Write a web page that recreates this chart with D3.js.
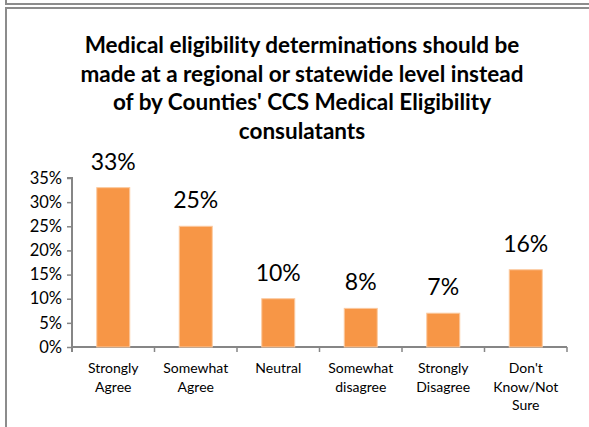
<!DOCTYPE html>
<html>
<head>
<meta charset="utf-8">
<script src="https://cdn.jsdelivr.net/npm/d3@7"></script>
<style>
  body { margin: 0; background: #fff; }
  text { font-family: Lato, "Open Sans", sans-serif; fill: #000; }
</style>
</head>
<body>
<svg class="chart"></svg>
<script>
var categories = ["Strongly\nAgree", "Somewhat\nAgree", "Neutral", "Somewhat\ndisagree", "Strongly\nDisagree", "Don't\nKnow/Not\nSure"];
var values = [33, 25, 10, 8, 7, 16];
var yTicks = [0, 5, 10, 15, 20, 25, 30, 35];
var titleLines = ["Medical eligibility determinations should be",
                  "made at a regional or statewide level instead",
                  "of by Counties' CCS Medical Eligibility",
                  "consulatants"];

var W = 589, H = 427;
var margin = {top: 178, left: 72, right: 22, bottom: 80},
    width = W - margin.left - margin.right,
    height = H - margin.top - margin.bottom;

var svg = d3.select(".chart")
    .attr("width", W)
    .attr("height", H);

// frames from the spreadsheet screenshot
svg.append("path")
    .attr("d", "M6,0 V4 H" + (W + 2))
    .attr("fill", "none")
    .attr("stroke", "#8c8c8c")
    .attr("stroke-width", 2);
svg.append("path")
    .attr("d", "M6," + (H + 2) + " V8 H" + (W + 2))
    .attr("fill", "none")
    .attr("stroke", "#8c8c8c")
    .attr("stroke-width", 2);

// title
svg.append("text")
    .attr("text-anchor", "middle")
    .style("font-weight", "bold")
    .style("font-size", "22.5px")
  .selectAll("tspan")
    .data(titleLines)
  .enter().append("tspan")
    .attr("x", 302)
    .attr("y", function(d, i) { return 53 + i * 28.5; })
    .text(function(d) { return d; });

var chart = svg.append("g")
    .attr("transform", "translate(" + margin.left + "," + margin.top + ")");

var x = d3.scaleBand()
    .domain(d3.range(categories.length))
    .range([0, width])
    .paddingInner(0.6)
    .paddingOuter(0.3);

var y = d3.scaleLinear()
    .domain([0, 35])
    .range([height, 0]);

// y axis
var yAxis = d3.axisLeft(y)
    .tickValues(yTicks)
    .tickSize(5)
    .tickFormat(function(d) { return d + "%"; });

var yg = chart.append("g").call(yAxis);
yg.select(".domain").attr("stroke", "#868686").attr("stroke-width", 2).attr("d", "M0," + (height + 5) + "V0H-5");
yg.selectAll(".tick line").attr("stroke", "#868686").attr("stroke-width", 1.5);
yg.selectAll(".tick text")
    .attr("x", -10)
    .style("font-size", "16.5px")
    .style("font-family", "Lato, sans-serif")
    .attr("fill", "#000");

// x axis baseline and boundary ticks
var step = x.step();
var bounds = d3.range(categories.length + 1).map(function(i) {
  return i === categories.length ? width : x(i) - step * 0.3;
});
chart.append("line")
    .attr("x1", 0).attr("x2", width)
    .attr("y1", height).attr("y2", height)
    .attr("stroke", "#868686").attr("stroke-width", 2);
chart.selectAll(".xtick")
    .data(bounds)
  .enter().append("line")
    .attr("class", "xtick")
    .attr("x1", function(d) { return d; })
    .attr("x2", function(d) { return d; })
    .attr("y1", height)
    .attr("y2", height + 5)
    .attr("stroke", "#868686").attr("stroke-width", 1.5);

// bars
chart.selectAll(".bar")
    .data(values)
  .enter().append("rect")
    .attr("class", "bar")
    .attr("x", function(d, i) { return x(i); })
    .attr("y", function(d) { return y(d); })
    .attr("width", x.bandwidth())
    .attr("height", function(d) { return height - y(d); })
    .attr("fill", "#f79646")
    .attr("stroke", "#fbc99f")
    .attr("stroke-width", 1);

// value labels
chart.selectAll(".val")
    .data(values)
  .enter().append("text")
    .attr("class", "val")
    .attr("x", function(d, i) { return x(i) + x.bandwidth() / 2; })
    .attr("y", function(d) { return y(d) - 18; })
    .attr("text-anchor", "middle")
    .style("font-size", "23px")
    .text(function(d) { return d + "%"; });

// category labels
var cat = chart.selectAll(".cat")
    .data(categories)
  .enter().append("text")
    .attr("class", "cat")
    .attr("text-anchor", "middle")
    .style("font-size", "14px");
cat.selectAll("tspan")
    .data(function(d, i) { return d.split("\n").map(function(s) { return {s: s, i: i}; }); })
  .enter().append("tspan")
    .attr("x", function(d) { return x(d.i) + x.bandwidth() / 2; })
    .attr("y", function(d, j) { return height + 26 + j * 18.5; })
    .text(function(d) { return d.s; });
</script>
</body>
</html>
